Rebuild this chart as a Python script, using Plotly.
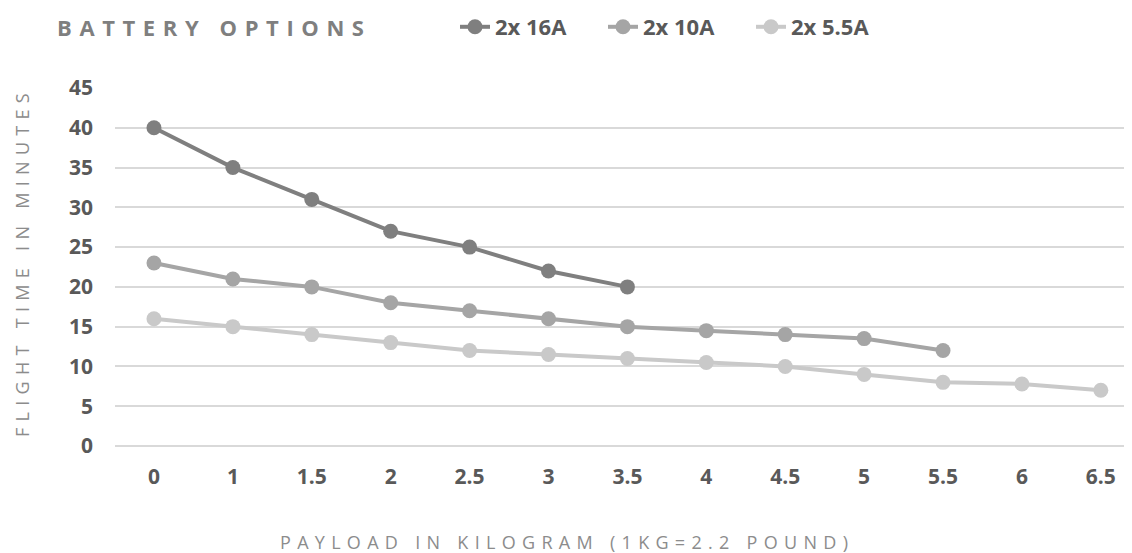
import plotly.graph_objects as go

payload = ["0", "1", "1.5", "2", "2.5", "3", "3.5", "4", "4.5", "5", "5.5", "6", "6.5"]
s16 = [40, 35, 31, 27, 25, 22, 20]
s10 = [23, 21, 20, 18, 17, 16, 15, 14.5, 14, 13.5, 12]
s55 = [16, 15, 14, 13, 12, 11.5, 11, 10.5, 10, 9, 8, 7.8, 7]
names = ["2x 16A", "2x 10A", "2x 5.5A"]
colors = ["#7f7f7f", "#a5a5a5", "#c9c9c9"]
yticks = [0, 5, 10, 15, 20, 25, 30, 35, 40, 45]

# the page body adds an 8px offset; work in page pixels and convert
OFF = 8
W, H = 1132 - OFF, 553 - OFF
L, R, T, B = 115 - OFF, 0, 88 - OFF, 553 - 446
PW, PH = W - L - R, H - T - B


def px(x):
    return (x - OFF - L) / PW


def py(y):
    return (H - B - (y - OFF)) / PH


fig = go.Figure()
for name, vals, col in zip(names, [s16, s10, s55], colors):
    fig.add_trace(go.Scatter(
        x=payload[:len(vals)], y=vals, name=name, mode="lines+markers",
        line=dict(color=col, width=4), marker=dict(color=col, size=15)))

tickfont = dict(size=21, weight="bold", color="#595959", family="Open Sans")
axis_title_font = dict(size=18, color="#8c8c8c", family="Open Sans")

fig.update_layout(
    width=W, height=H,
    margin=dict(l=L, r=R, t=T, b=B),
    paper_bgcolor="white", plot_bgcolor="white",
    font=dict(family="Open Sans", color="#595959"),
    showlegend=True,
    legend=dict(orientation="h", x=px(455), xanchor="left", y=1 - (27 - OFF) / H, yref="container",
                yanchor="middle", font=dict(size=22, weight="bold", color="#595959"),
                entrywidth=103, entrywidthmode="pixels", itemwidth=30, tracegroupgap=0,
                bgcolor="rgba(0,0,0,0)"),
    xaxis=dict(type="category", range=[-0.494, 12.395], showgrid=False, zeroline=False,
               showline=False, automargin=False,
               tickfont=tickfont, ticks="", ticklabelstandoff=16),
    yaxis=dict(range=[0, 45], tickvals=yticks, showgrid=True, gridcolor="#d9d9d9", gridwidth=1.5,
               zeroline=True, zerolinecolor="#d9d9d9", zerolinewidth=1.5, automargin=False,
               tickfont=tickfont, ticks="", ticklabelstandoff=21),
    annotations=[
        dict(text='<span style="letter-spacing:7.6px"><b>BATTERY OPTIONS</b></span>',
             xref="paper", yref="paper", x=px(55), y=py(27),
             xanchor="left", yanchor="middle", showarrow=False,
             font=dict(size=22, color="#7f7f7f", family="Open Sans")),
        dict(text='<span style="letter-spacing:6.3px">PAYLOAD IN KILOGRAM (1KG=2.2 POUND)</span>',
             xref="paper", yref="paper", x=px(567), y=py(542),
             xanchor="center", yanchor="middle", showarrow=False, font=axis_title_font),
        dict(text='<span style="letter-spacing:6.3px">FLIGHT TIME IN MINUTES</span>',
             xref="paper", yref="paper", x=px(22), y=py(262), textangle=-90,
             xanchor="center", yanchor="middle", showarrow=False, font=axis_title_font),
    ],
)
fig.write_html("out.html")
